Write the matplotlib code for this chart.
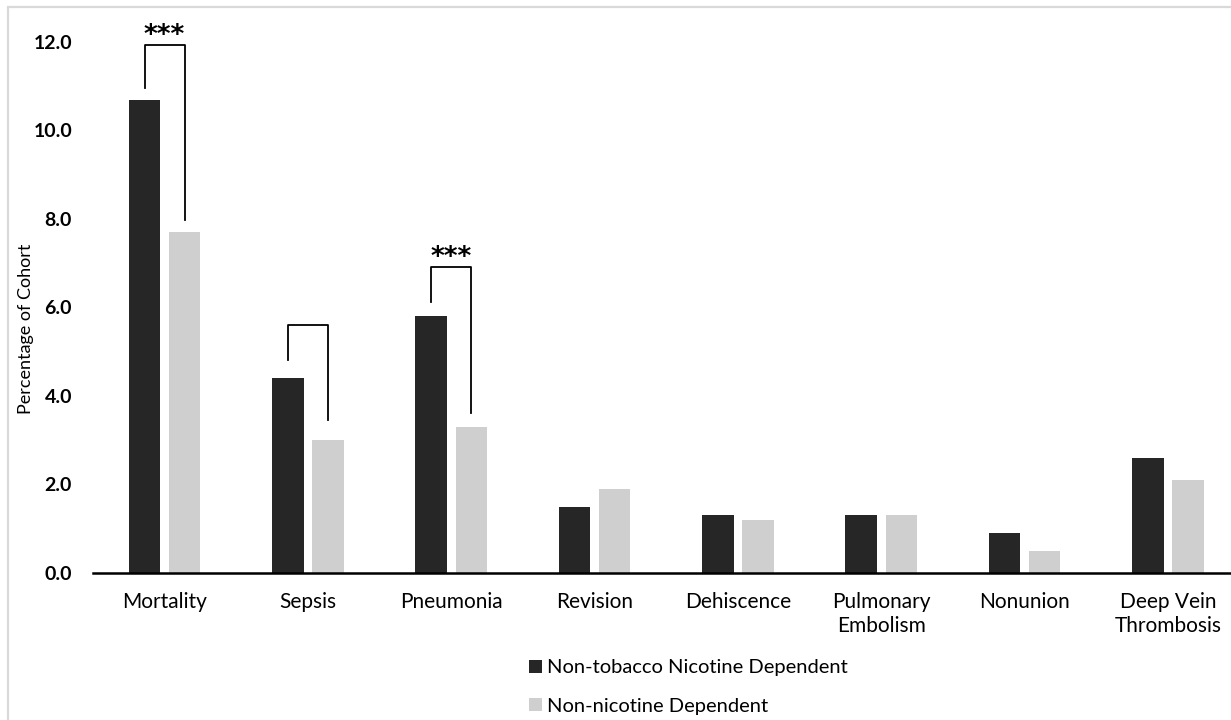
import numpy as np
import matplotlib.pyplot as plt
from matplotlib.patches import Rectangle

plt.rcParams['font.family'] = ['Lato', 'DejaVu Sans']

# dados
categorias = ["Mortality", "Sepsis", "Pneumonia", "Revision", "Dehiscence",
              "Pulmonary\nEmbolism", "Nonunion", "Deep Vein\nThrombosis"]
nao_tabaco = [10.7, 4.4, 5.8, 1.5, 1.3, 1.3, 0.9, 2.6]
nao_nicotina = [7.7, 3.0, 3.3, 1.9, 1.2, 1.3, 0.5, 2.1]
series = ["Non-tobacco Nicotine Dependent", "Non-nicotine Dependent"]

# colchetes de significancia: (categoria, y esquerda, y topo, y direita, texto)
colchetes = [(0, 10.96, 11.93, 7.98, "***"),
             (1, 4.81, 5.60, 3.46, ""),
             (2, 6.12, 6.92, 3.62, "***")]

x = np.arange(len(categorias))
off = 0.14
w = 0.22

fig = plt.figure(figsize=(12.31, 7.2), dpi=100)
ax = fig.add_axes([0.0755, 0.2042, 0.9245, 0.7375])

ax.bar(x - off, nao_tabaco, w, color="#262626", label=series[0])
ax.bar(x + off, nao_nicotina, w, color="#d0cfcf", label=series[1])

for i, yl, yt, yr, txt in colchetes:
    ax.plot([i - off, i - off, i + off, i + off], [yl, yt, yt, yr],
            color="black", lw=1.3, clip_on=False)
    if txt:
        ax.text(i, yt + 0.05, txt, ha="center", va="baseline",
                fontsize=19, fontweight="bold", family="DejaVu Sans",
                clip_on=False)

ax.set_xlim(-0.5, 7.44)
ax.set_ylim(0, 12)
ticks = np.arange(0, 12.1, 2)
ax.set_yticks(ticks)
ax.set_yticklabels([f"{v:.1f}" for v in ticks], fontsize=14, fontweight="bold")
ax.set_xticks(x)
ax.set_xticklabels(categorias, fontsize=15, linespacing=1.25)
ax.tick_params(axis="both", length=0)
ax.tick_params(axis="x", pad=14)
ax.tick_params(axis="y", pad=15)
ax.set_ylabel("Percentage of Cohort", fontsize=13)
ax.yaxis.set_label_coords(-0.052, 0.46)

for s in ["top", "right", "left"]:
    ax.spines[s].set_visible(False)
ax.spines["bottom"].set_linewidth(1.8)

leg = fig.legend(loc="center left", bbox_to_anchor=(519 / 1231, 1 - 687 / 720),
                 ncol=1, frameon=False, fontsize=14.5, borderpad=0,
                 handlelength=0.65, handleheight=0.65, handletextpad=0.25,
                 labelspacing=1.05)

# borda da figura
fig.patches.append(Rectangle((0.0065, -0.01), 1.0, 1.0, transform=fig.transFigure,
                             fill=False, edgecolor="#d9d9d9", lw=1.6))

fig.savefig("out.png", dpi=100)
